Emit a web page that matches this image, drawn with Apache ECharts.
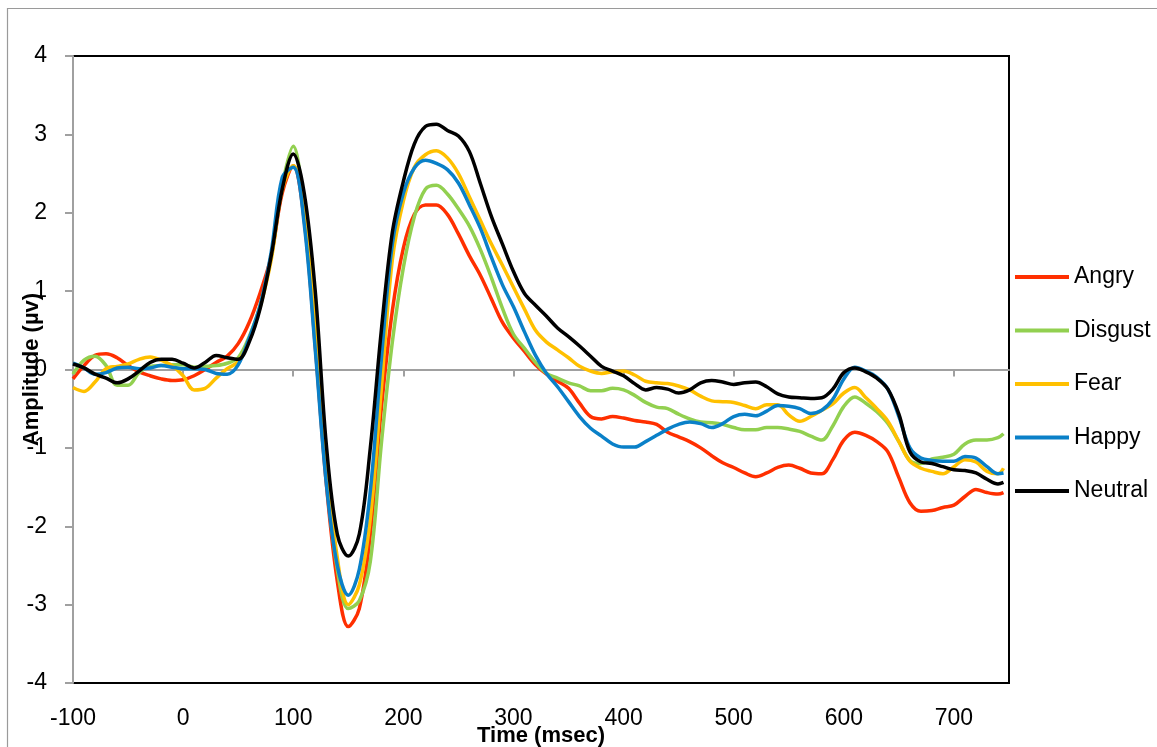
<!DOCTYPE html>
<html>
<head>
<meta charset="utf-8">
<script src="https://cdn.jsdelivr.net/npm/echarts@6/dist/echarts.min.js"></script>
<style>html,body{margin:0;padding:0;background:#fff}#c{width:1157px;height:747px}</style>
</head>
<body>
<div id="c"></div>
<script>
const times = [-100,-90,-80,-70,-60,-50,-40,-30,-20,-10,0,10,20,30,40,50,60,70,80,90,100,110,120,130,140,150,160,170,180,190,200,210,220,230,240,250,260,270,280,290,300,310,320,330,340,350,360,370,380,390,400,410,420,430,440,450,460,470,480,490,500,510,520,530,540,550,560,570,580,590,600,610,620,630,640,650,660,670,680,690,700,710,720,730,740,745];

const angry = [-0.12,0.05,0.18,0.2,0.15,0.05,-0.03,-0.08,-0.12,-0.14,-0.13,-0.08,0.0,0.09,0.17,0.33,0.6,0.98,1.45,2.25,2.6,1.9,0.3,-1.45,-2.7,-3.28,-3.05,-2.1,-0.5,0.75,1.55,1.98,2.1,2.1,1.98,1.73,1.45,1.2,0.9,0.6,0.4,0.23,0.06,-0.06,-0.15,-0.24,-0.43,-0.6,-0.63,-0.6,-0.62,-0.65,-0.67,-0.7,-0.8,-0.86,-0.92,-1.0,-1.1,-1.19,-1.25,-1.32,-1.37,-1.32,-1.25,-1.22,-1.26,-1.32,-1.33,-1.15,-0.9,-0.8,-0.84,-0.92,-1.05,-1.38,-1.7,-1.81,-1.8,-1.76,-1.73,-1.62,-1.53,-1.57,-1.59,-1.57];

const disgust = [-0.06,0.12,0.17,0.05,-0.2,-0.2,-0.04,0.04,0.05,0.06,0.06,0.03,0.04,0.05,0.08,0.15,0.42,0.82,1.45,2.35,2.85,2.0,0.4,-1.35,-2.55,-3.05,-2.95,-2.45,-0.95,0.35,1.3,1.95,2.3,2.35,2.24,2.05,1.83,1.53,1.17,0.78,0.45,0.27,0.09,-0.05,-0.11,-0.17,-0.21,-0.27,-0.27,-0.24,-0.26,-0.33,-0.42,-0.48,-0.5,-0.57,-0.63,-0.67,-0.68,-0.7,-0.74,-0.77,-0.77,-0.74,-0.74,-0.76,-0.79,-0.85,-0.9,-0.72,-0.47,-0.35,-0.43,-0.54,-0.69,-0.92,-1.16,-1.2,-1.14,-1.12,-1.08,-0.95,-0.9,-0.9,-0.87,-0.82];

const fear = [-0.23,-0.28,-0.16,0.01,0.04,0.07,0.13,0.16,0.12,0.05,-0.08,-0.26,-0.24,-0.11,0.01,0.1,0.38,0.8,1.4,2.3,2.6,2.15,0.7,-1.15,-2.4,-3.0,-2.75,-1.9,-0.25,1.4,2.15,2.58,2.74,2.79,2.7,2.5,2.2,1.9,1.6,1.33,1.05,0.77,0.5,0.35,0.25,0.15,0.04,-0.02,-0.05,-0.03,-0.02,-0.07,-0.15,-0.17,-0.18,-0.21,-0.26,-0.34,-0.4,-0.41,-0.42,-0.46,-0.5,-0.45,-0.45,-0.58,-0.66,-0.6,-0.52,-0.44,-0.3,-0.23,-0.36,-0.5,-0.66,-0.92,-1.17,-1.26,-1.3,-1.33,-1.24,-1.15,-1.18,-1.3,-1.33,-1.26];

const happy = [0.08,0.02,-0.06,-0.04,0.02,0.03,0.01,0.02,0.05,0.03,0.01,0.01,0.0,-0.05,-0.06,0.06,0.4,0.82,1.5,2.45,2.58,1.85,0.25,-1.45,-2.5,-2.88,-2.55,-1.55,0.13,1.6,2.25,2.57,2.67,2.63,2.55,2.38,2.1,1.8,1.43,1.08,0.8,0.48,0.18,-0.05,-0.22,-0.41,-0.6,-0.75,-0.85,-0.95,-0.99,-0.99,-0.92,-0.84,-0.76,-0.7,-0.67,-0.69,-0.74,-0.69,-0.6,-0.57,-0.59,-0.53,-0.46,-0.47,-0.5,-0.56,-0.52,-0.38,-0.12,0.03,-0.02,-0.1,-0.25,-0.6,-1.0,-1.13,-1.16,-1.17,-1.17,-1.11,-1.13,-1.24,-1.33,-1.32];

const neutral = [0.07,0.02,-0.06,-0.11,-0.17,-0.12,-0.02,0.09,0.13,0.13,0.08,0.02,0.09,0.18,0.15,0.13,0.35,0.78,1.45,2.3,2.75,2.25,1.0,-0.95,-2.1,-2.38,-2.1,-1.0,0.5,1.75,2.4,2.88,3.1,3.13,3.05,2.98,2.78,2.37,1.95,1.6,1.25,0.97,0.82,0.68,0.53,0.42,0.3,0.17,0.04,-0.02,-0.08,-0.18,-0.26,-0.23,-0.25,-0.3,-0.26,-0.17,-0.14,-0.16,-0.19,-0.17,-0.16,-0.22,-0.31,-0.35,-0.36,-0.37,-0.36,-0.25,-0.04,0.02,-0.03,-0.11,-0.25,-0.57,-1.05,-1.18,-1.2,-1.24,-1.28,-1.29,-1.32,-1.4,-1.46,-1.44];

const seriesNames = ['Angry','Disgust','Fear','Happy','Neutral'];
const seriesValues = [angry, disgust, fear, happy, neutral];
const seriesColors = ['#FF2F00','#92D050','#FFC000','#0A80C8','#000000'];
const xTickValues = [-100,0,100,200,300,400,500,600,700];

const FONT = 'Liberation Sans, Arial, sans-serif';
const chart = echarts.init(document.getElementById('c'), null, {renderer: 'canvas'});

const option = {
  animation: false,
  backgroundColor: '#fff',
  textStyle: {fontFamily: FONT},
  graphic: [{
    type: 'rect', z: -10, silent: true,
    shape: {x: 7.5, y: 8.5, width: 1300, height: 900},
    style: {fill: 'none', stroke: '#9A9A9A', lineWidth: 1.2}
  }],
  grid: {left: 73, top: 56, right: 148, bottom: 64, show: true, borderColor: '#000', borderWidth: 2,
    backgroundColor: 'transparent', containLabel: false, outerBoundsMode: 'none'},
  legend: {
    orient: 'vertical', left: 1010, top: 259,
    icon: 'rect', itemWidth: 54, itemHeight: 4, itemGap: 27.5,
    textStyle: {fontSize: 23, color: '#000', fontFamily: FONT, lineHeight: 26},
    data: seriesNames
  },
  xAxis: [{
    type: 'value', min: -100, max: 750, interval: 100,
    position: 'bottom',
    axisLine: {show: false, onZero: false},
    axisTick: {show: false},
    splitLine: {show: false},
    axisLabel: {fontSize: 23, color: '#000', fontFamily: FONT, margin: 24,
      formatter: v => (v % 100 === 0 ? String(v) : '')},
    name: 'Time (msec)', nameLocation: 'middle', nameGap: 42, nameMoveOverlap: false,
    nameTextStyle: {fontSize: 22, fontWeight: 'bold', color: '#000', fontFamily: FONT}
  }, {
    type: 'value', min: -100, max: 750, interval: 100,
    position: 'bottom',
    axisLine: {show: true, onZero: true, lineStyle: {color: '#A0A0A0', width: 2}},
    axisTick: {show: true, length: 7, lineStyle: {color: '#A0A0A0', width: 2},
      customValues: xTickValues},
    axisLabel: {show: false},
    splitLine: {show: false}
  }],
  yAxis: {
    type: 'value', min: -4, max: 4, interval: 1,
    axisLine: {show: true, onZero: false, lineStyle: {color: '#A0A0A0', width: 2}},
    axisTick: {show: true, length: 8, lineStyle: {color: '#A0A0A0', width: 2}},
    splitLine: {show: false},
    axisLabel: {fontSize: 23, color: '#000', fontFamily: FONT, margin: 26},
    name: 'Amplitude (µv)', nameLocation: 'middle', nameGap: 30, nameRotate: 90, nameMoveOverlap: false,
    nameTextStyle: {fontSize: 22, fontWeight: 'bold', color: '#000', fontFamily: FONT}
  },
  series: seriesNames.map((name, i) => ({
    name: name, type: 'line', xAxisIndex: 0, smooth: 0.35,
    showSymbol: false, symbol: 'none',
    lineStyle: {color: seriesColors[i], width: 3.5},
    itemStyle: {color: seriesColors[i]},
    data: times.map((t, k) => [t, seriesValues[i][k]])
  }))
};
chart.setOption(option);
</script>
</body>
</html>
